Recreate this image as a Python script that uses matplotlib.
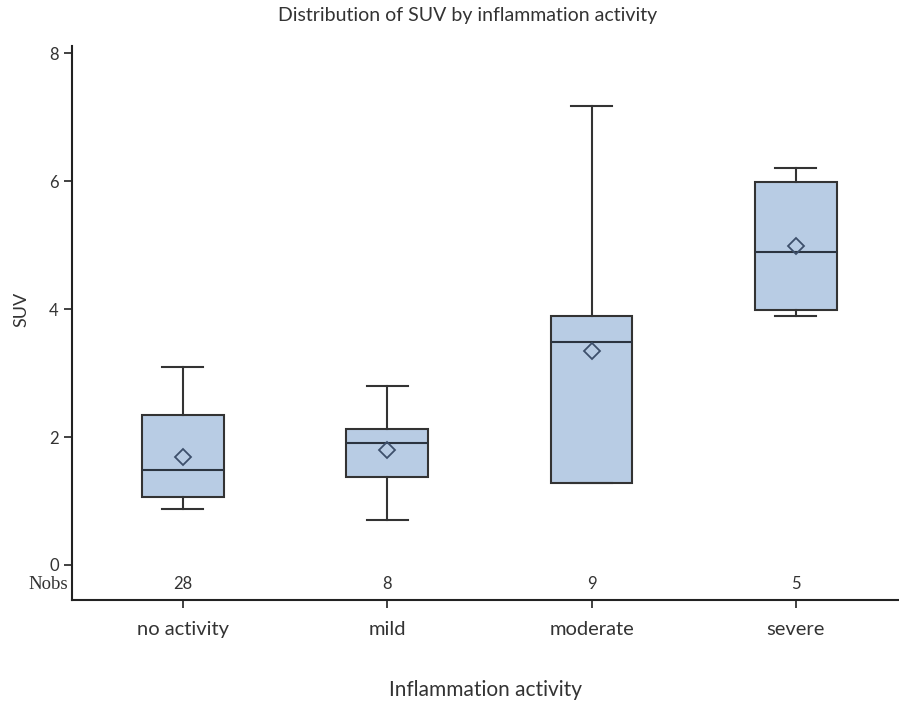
import matplotlib
matplotlib.use("Agg")
import matplotlib.pyplot as plt

categories = ["no activity", "mild", "moderate", "severe"]
nobs = [28, 8, 9, 5]
whisker_low = [0.88, 0.70, 1.28, 3.89]
q1 = [1.06, 1.38, 1.28, 3.99]
median = [1.49, 1.90, 3.48, 4.89]
q3 = [2.34, 2.12, 3.89, 5.99]
whisker_high = [3.10, 2.80, 7.18, 6.20]
mean = [1.68, 1.79, 3.35, 4.98]

txt = "#333333"
fig = plt.figure(figsize=(8.99, 7.08), dpi=100)
ax = fig.add_axes([0.080, 0.1525, 0.919, 0.782])

stats = []
for i, c in enumerate(categories):
    stats.append(dict(label=c, whislo=whisker_low[i], q1=q1[i], med=median[i],
                      q3=q3[i], whishi=whisker_high[i], mean=mean[i], fliers=[]))

positions = list(range(1, len(categories) + 1))
edge = "#333333"
ax.bxp(stats, positions=positions, widths=0.40, patch_artist=True, showmeans=True,
       showfliers=False,
       boxprops=dict(facecolor="#B8CCE4", edgecolor=edge, linewidth=1.5),
       medianprops=dict(color="#2b3440", linewidth=1.5),
       whiskerprops=dict(color=edge, linewidth=1.5),
       capprops=dict(color=edge, linewidth=1.5),
       capwidths=0.2,
       meanprops=dict(marker="D", markerfacecolor="none", markeredgecolor="#3d4f6b",
                      markeredgewidth=1.3, markersize=8))

ax.set_xlim(0.457, 4.50)
ax.set_ylim(-0.55, 8.11)
ax.set_yticks([0, 2, 4, 6, 8])
ax.set_yticklabels(["0", "2", "4", "6", "8"], fontsize=12, family="Lato", color=txt)
ax.set_xticks(positions)
ax.set_xticklabels(categories, fontsize=14.5, family="Lato", color=txt)
ax.tick_params(axis="both", direction="out", length=6, width=1.3, color="#333333")
ax.tick_params(axis="x", pad=9)

for s in ["top", "right"]:
    ax.spines[s].set_visible(False)
for s in ["left", "bottom"]:
    ax.spines[s].set_linewidth(1.5)
    ax.spines[s].set_color("#222222")

for p, n in zip(positions, nobs):
    ax.text(p, -0.30, str(n), ha="center", va="center", fontsize=12, family="Lato",
            color=txt)
ax.text(-0.005, -0.30, "Nobs", transform=ax.get_yaxis_transform(), ha="right",
        va="center", fontsize=13.5, family="Liberation Serif", color=txt)

ax.set_ylabel("SUV", fontsize=13, family="Lato", labelpad=14, color=txt, y=0.525)
ax.set_xlabel("Inflammation activity", fontsize=15, family="Lato", labelpad=30,
              color=txt)
fig.suptitle("Distribution of SUV by inflammation activity", fontsize=14,
             family="Lato", x=0.52, y=0.990, va="top", color=txt)

fig.savefig("out.png", dpi=100)
